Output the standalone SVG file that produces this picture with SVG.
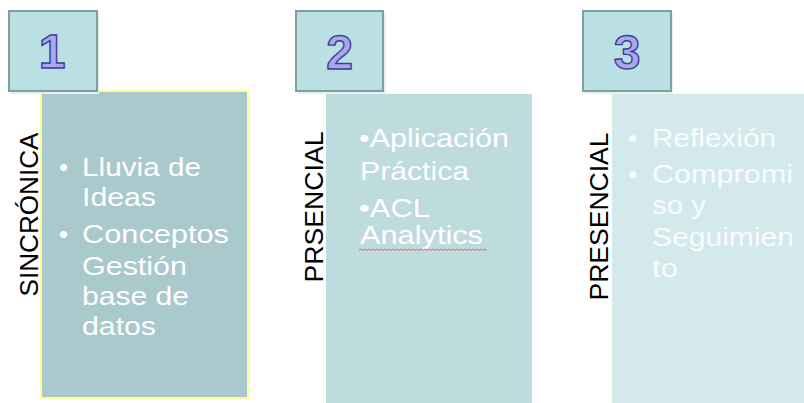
<svg xmlns="http://www.w3.org/2000/svg" width="804" height="403" viewBox="0 0 804 403">
  <style>
    .tab { fill: #bae0e3; stroke: #809fa0; stroke-width: 2; }
    .shadow { fill: #e6f0f0; }
    .num { font-family: "Liberation Sans", Arial, sans-serif; font-weight: bold; font-size: 48px; fill: #a9a9e9; stroke: #3d3d9c; stroke-width: 1.4; text-anchor: middle; }
    .side { font-family: "Liberation Sans", Arial, sans-serif; font-size: 25.5px; fill: #000000; text-anchor: middle; }
    .body { font-family: "Liberation Sans", Arial, sans-serif; font-size: 26px; fill: #ffffff; }
    .body3 { font-family: "Liberation Sans", Arial, sans-serif; font-size: 26px; fill: #f8fcfc; }
  </style>
  <rect width="804" height="403" fill="#ffffff"/>

  <g id="node-1">
    <rect x="41" y="91" width="207" height="307" fill="#a9c9cc" stroke="#ffff99" stroke-width="2"/>
    <rect class="shadow" x="11" y="13" width="88" height="81"/>
    <rect class="tab" x="9" y="11" width="88" height="80"/>
    <text class="num" x="52" y="68">1</text>
    <text class="side" transform="translate(37.5,214.5) rotate(-90)" textLength="164" lengthAdjust="spacingAndGlyphs">SINCRÓNICA</text>
    <text class="body" x="59" y="175.5">•</text>
    <text class="body" x="82" y="175.5" textLength="119" lengthAdjust="spacingAndGlyphs">Lluvia de</text>
    <text class="body" x="82" y="205.5" textLength="74" lengthAdjust="spacingAndGlyphs">Ideas</text>
    <text class="body" x="59" y="242.5">•</text>
    <text class="body" x="82" y="242.5" textLength="147" lengthAdjust="spacingAndGlyphs">Conceptos</text>
    <text class="body" x="82" y="274.5" textLength="105" lengthAdjust="spacingAndGlyphs">Gestión</text>
    <text class="body" x="82" y="305" textLength="107" lengthAdjust="spacingAndGlyphs">base de</text>
    <text class="body" x="82" y="334.5" textLength="74" lengthAdjust="spacingAndGlyphs">datos</text>
  </g>

  <g id="node-2">
    <rect x="326" y="94" width="206" height="309" fill="#bedbde"/>
    <rect class="shadow" x="298" y="13" width="88" height="81"/>
    <rect class="tab" x="296" y="11" width="87" height="80"/>
    <text class="num" x="339.5" y="69">2</text>
    <text class="side" transform="translate(323,207) rotate(-90)" textLength="151" lengthAdjust="spacingAndGlyphs">PRSENCIAL</text>
    <text class="body" x="359" y="146.5" textLength="150" lengthAdjust="spacingAndGlyphs">•Aplicación</text>
    <text class="body" x="360" y="180" textLength="109" lengthAdjust="spacingAndGlyphs">Práctica</text>
    <text class="body" x="359" y="216.5" textLength="71" lengthAdjust="spacingAndGlyphs">•ACL</text>
    <text class="body" x="360" y="243.5" textLength="123" lengthAdjust="spacingAndGlyphs">Analytics</text>
    <path d="M359,250.5 l2,-1.5 l2,1.5 l2,-1.5 l2,1.5 l2,-1.5 l2,1.5 l2,-1.5 l2,1.5 l2,-1.5 l2,1.5 l2,-1.5 l2,1.5 l2,-1.5 l2,1.5 l2,-1.5 l2,1.5 l2,-1.5 l2,1.5 l2,-1.5 l2,1.5 l2,-1.5 l2,1.5 l2,-1.5 l2,1.5 l2,-1.5 l2,1.5 l2,-1.5 l2,1.5 l2,-1.5 l2,1.5 l2,-1.5 l2,1.5 l2,-1.5 l2,1.5 l2,-1.5 l2,1.5 l2,-1.5 l2,1.5 l2,-1.5 l2,1.5 l2,-1.5 l2,1.5 l2,-1.5 l2,1.5 l2,-1.5 l2,1.5 l2,-1.5 l2,1.5 l2,-1.5 l2,1.5 l2,-1.5 l2,1.5 l2,-1.5 l2,1.5 l2,-1.5 l2,1.5 l2,-1.5 l2,1.5 l2,-1.5 l2,1.5 l2,-1.5 l2,1.5 l2,-1.5 l2,1.5" fill="none" stroke="#e66a6a" stroke-width="1"/>
  </g>

  <g id="node-3">
    <rect x="612" y="94" width="192" height="309" fill="#d3e9eb"/>
    <rect class="shadow" x="585" y="13" width="88" height="81"/>
    <rect class="tab" x="583" y="11" width="88" height="80"/>
    <text class="num" x="627" y="69">3</text>
    <text class="side" transform="translate(608,216.5) rotate(-90)" textLength="168" lengthAdjust="spacingAndGlyphs">PRESENCIAL</text>
    <text class="body3" x="628" y="146.5">•</text>
    <text class="body3" x="652" y="146.5" textLength="124" lengthAdjust="spacingAndGlyphs">Reflexión</text>
    <text class="body3" x="628" y="182.5">•</text>
    <text class="body3" x="652" y="182.5" textLength="141" lengthAdjust="spacingAndGlyphs">Compromi</text>
    <text class="body3" x="652" y="213.5" textLength="54" lengthAdjust="spacingAndGlyphs">so y</text>
    <text class="body3" x="652" y="246" textLength="142" lengthAdjust="spacingAndGlyphs">Seguimien</text>
    <text class="body3" x="652" y="276.5" textLength="26" lengthAdjust="spacingAndGlyphs">to</text>
  </g>

  <g id="connectors"></g>
</svg>
